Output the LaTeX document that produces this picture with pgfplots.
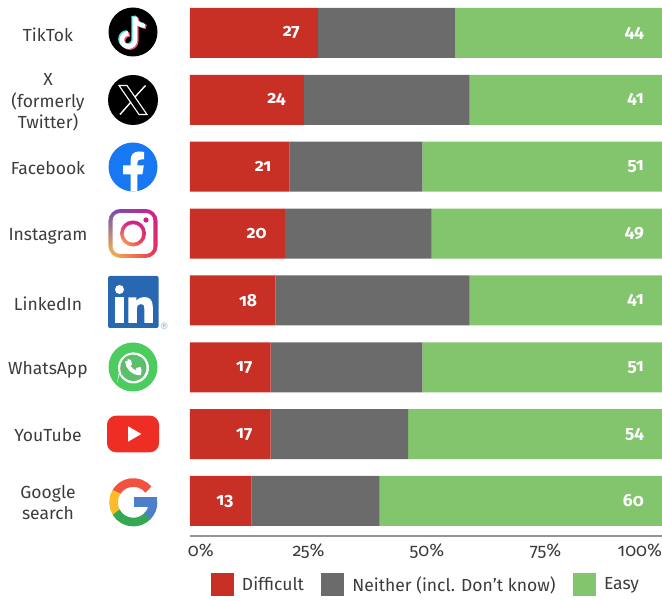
\documentclass[border=0pt]{standalone}
\usepackage{fontspec}
\setmainfont{Fira Sans}[Numbers=OldStyle]
\usepackage{pgfplots}
\usetikzlibrary{shadings}
\pgfplotsset{compat=1.18}
\definecolor{cred}{HTML}{C83026}
\definecolor{cgrey}{HTML}{6B6B6B}
\definecolor{cgreen}{HTML}{82C56C}
\definecolor{ctext}{HTML}{3C3C3C}
\definecolor{fb}{HTML}{1877F2}
\definecolor{li}{HTML}{2867B2}
\definecolor{wa}{HTML}{4CCB5E}
\definecolor{wb}{HTML}{5CBF6A}
\definecolor{yt}{HTML}{EE2D24}
\definecolor{gr}{HTML}{F15340}
\definecolor{gy}{HTML}{FBBC2C}
\definecolor{gg}{HTML}{34A853}
\definecolor{gb}{HTML}{4D7EC8}
\definecolor{iga}{HTML}{6A4FB5}
\definecolor{igb}{HTML}{D41C8C}
\definecolor{igc}{HTML}{FDC24A}
\definecolor{igd}{HTML}{E8304F}
\definecolor{tc}{HTML}{4FE0DC}
\definecolor{tp}{HTML}{F0527A}
\tikzset{
  icon/.style={shift={(#1)},x=1pt,y=1pt},
}
\newcommand{\St}{\rule[-3pt]{0pt}{15pt}}
\pgfplotsset{valuelabels/.style={
  point meta=explicit,
  visualization depends on={rawx \as \rawxv},
  nodes near coords style={anchor=east,xshift={\rawxv*2.37pt-#1},inner sep=0pt,text=white,font=\fontsize{17.5}{18}\selectfont\bfseries}}}
\begin{document}
\begin{tikzpicture}[x=1pt,y=1pt]
\path[use as bounding box] (0,0) rectangle (662,601);
\begin{axis}[
  at={(190pt,65pt)},anchor=south west,
  scale only axis,width=474pt,height=536pt,
  xbar stacked,bar width=50pt,
  xmin=0,xmax=100,ymin=-0.5235,ymax=7.4936,
  clip=false,
  axis y line*=left,
  axis x line*=bottom,
  y axis line style={draw=none},
  x axis line style={draw=black!42,line width=1.5pt,-},
  major tick length=0pt,
  xtick={0,25,50,75,100},
  xticklabels={\makebox[0pt][l]{\hspace{-2pt}0\%},25\%,50\%,75\%,\makebox[0pt][r]{100\%\hspace{2pt}}},
  xticklabel style={text=ctext,font=\fontsize{18}{20}\selectfont,inner sep=0pt,yshift=-8.5pt,text height=12pt,text depth=3pt},
  ytick={0,1,2,3,4,5,6,7},
  yticklabels={{\St Google\\\St search},\St YouTube,\St WhatsApp,\rule[-3pt]{0pt}{21pt}LinkedIn,\St Instagram,\St Facebook,{\St X\\\St (formerly\\\St Twitter)},\St TikTok},
  yticklabel style={text=ctext,font=\fontsize{17.5}{21.5}\selectfont,align=center,anchor=center,inner sep=0pt,xshift=-142pt,yshift=-2.7pt},
  /pgf/number format/assume math mode=true,
  nodes near coords={\pgfmathprintnumber{\pgfplotspointmeta}},
  legend style={at={(0.0443,-0.1119)},anchor=south west,draw=none,fill=none,inner sep=0pt,outer sep=0pt,
    legend columns=3,font=\fontsize{17.5}{21}\selectfont,text=ctext,
    nodes={inner sep=0pt},
    /tikz/every even column/.append style={column sep=17.5pt},
    /tikz/every odd column/.append style={column sep=8pt}},
  legend cell align=left,
  legend image code/.code={\fill[#1] (0pt,-11.5pt) rectangle (23pt,11.5pt);},
]
\addplot+[draw=none,fill=cred,valuelabels=18pt]
  coordinates {(27,7)[27] (24,6)[24] (21,5)[21] (20,4)[20] (18,3)[18] (17,2)[17] (17,1)[17] (13,0)[13]};
\addplot+[draw=none,fill=cgrey,nodes near coords={}]
  coordinates {(29,7) (35,6) (28,5) (31,4) (41,3) (32,2) (29,1) (27,0)};
\addplot+[draw=none,fill=cgreen,valuelabels=20pt]
  coordinates {(44,7)[44] (41,6)[41] (51,5)[51] (49,4)[49] (41,3)[41] (51,2)[51] (54,1)[54] (60,0)[60]};
\legend{Difficult,Neither (incl. Don’t know),Easy}
\end{axis}

% TikTok
\begin{scope}[icon={133,569}]
\fill[black] (0,0) circle (24.5);
\foreach \c/\dx/\dy in {tc/-1.3/1,tp/1.3/-1,white/0/0}{
  \begin{scope}[shift={(\dx,\dy)}]
  \draw[\c,line width=4.6pt] (2,15) -- (2,-8) arc (0:-270:6.6);
  \draw[\c,line width=4.2pt] (2,15) .. controls (3,8) and (7,7) .. (12,6);
  \end{scope}}
\end{scope}
% X
\begin{scope}[icon={133,501}]
\fill[black] (0,0) circle (25);
\draw[white,line width=1.1pt] (-14,14.5) -- (-6,14.5) -- (14,-14.5) -- (6,-14.5) -- cycle;
\draw[white,line width=1.4pt] (12.5,14.5) -- (1.8,2.8);
\draw[white,line width=1.4pt] (-2,-2) -- (-13,-14.5);
\end{scope}
% Facebook
\begin{scope}[icon={133,434}]
\fill[fb] (0,0) circle (24.5);
\fill[white] (-2.4,-24.4) -- (-2.4,-7.5) -- (-10,-7.5) -- (-10,1.5) -- (-2.4,1.5) -- (-2.4,7)
  .. controls (-2.4,12.5) and (1,15.5) .. (6,15.5) .. controls (8,15.5) and (9.5,15.3) .. (11,15)
  -- (11,7.5) -- (8,7.5) .. controls (5.5,7.5) and (4.3,6.3) .. (4.3,4) -- (4.3,1.5) -- (10.8,1.5)
  -- (9.4,-7.5) -- (4.3,-7.5) -- (4.3,-24.4) -- cycle;
\end{scope}
% Instagram
\begin{scope}[icon={133,367.5}]
\shade[upper left=iga,upper right=igb,lower left=igc,lower right=igd]
  (-24.5,-24.5) rectangle (24.5,24.5);
\fill[white,even odd rule] (-26,-26) rectangle (26,26)
  [rounded corners=12pt] (-24.6,-24.6) rectangle (24.6,24.6);
\fill[white,rounded corners=7.5pt] (-20.4,-20.4) rectangle (20.4,20.4);
\shade[upper left=igb,upper right=igb,lower left=igc,lower right=igd]
  (0,0) circle (13);
\fill[white] (0,0) circle (9.2);
\fill[igb] (13,13.5) circle (2.6);
\end{scope}
% LinkedIn
\begin{scope}[icon={133.3,299}]
\fill[li,rounded corners=2pt] (-25.3,-26) rectangle (25.3,26);
\fill[white] (-13.8,12.5) circle (4.5);
\fill[white] (-18,-21) rectangle (-9.5,4.5);
\fill[white] (-5,-21) -- (-5,4.5) -- (3,4.5) -- (3,1) .. controls (5,4) and (8,5) .. (11,5)
  .. controls (17,5) and (19.5,1) .. (19.5,-5) -- (19.5,-21) -- (11,-21) -- (11,-7)
  .. controls (11,-3) and (10,-2) .. (7.5,-2) .. controls (4.5,-2) and (3.5,-4) .. (3.5,-7)
  -- (3.5,-21) -- cycle;
\node[text=li!55,inner sep=0pt,font=\fontsize{9}{9}\selectfont] at (31,-24.5) {\fontspec{DejaVu Sans}®};
\end{scope}
% WhatsApp
\begin{scope}[icon={133,234}]
\fill[wa] (0,0) circle (24.5);
\fill[white] (-16,-16) -- (-13.6,-7.5) arc (205:-160:15.5) -- cycle;
\fill[wb] (-12.5,-12.8) -- (-11.3,-7) arc (208:-155:13.2) -- cycle;
\draw[white,line width=4pt] (-6,6) .. controls (-5.5,-1) and (0,-6) .. (7,-6.5);
\fill[white] (-5.5,8) -- (-2,7) -- (-1,2) -- (-5,1) -- cycle;
\fill[white] (8.5,-3) -- (7.5,0) -- (3,-1) -- (2.5,-7) -- (8,-8) -- cycle;
\end{scope}
% YouTube
\begin{scope}[icon={133,167}]
\fill[yt,rounded corners=9pt] (-26,-18.3) rectangle (26,18.3);
\fill[white] (-5,-7.7) -- (8.3,0) -- (-5,7.7) -- cycle;
\end{scope}
% Google
\begin{scope}[icon={133.3,98.7}]
\draw[gr,line width=8.6pt] (40:19.8) arc (40:150:19.8);
\draw[gy,line width=8.6pt] (148:19.8) arc (148:212:19.8);
\draw[gg,line width=8.6pt] (210:19.8) arc (210:318:19.8);
\draw[gb,line width=8.6pt] (-45:19.8) arc (-45:2:19.8);
\fill[gb] (0.5,-5) rectangle (23.9,5);
\end{scope}
\end{tikzpicture}
\end{document}
